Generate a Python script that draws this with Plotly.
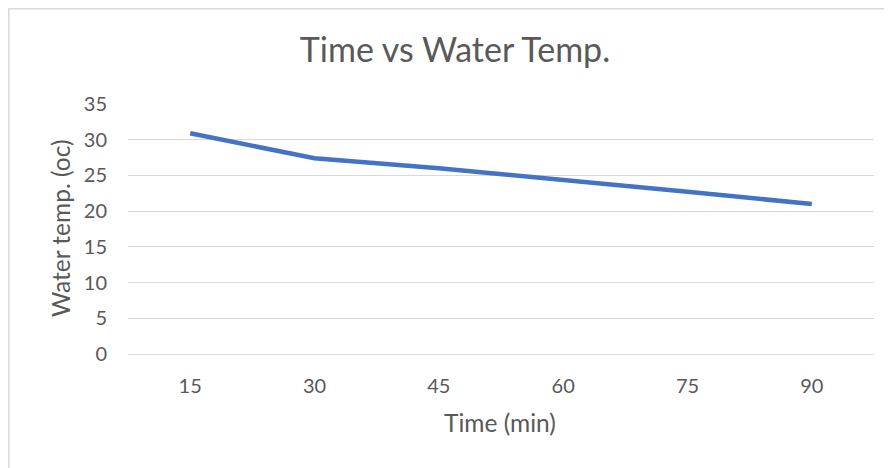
import plotly.graph_objects as go

time_min = ["15", "30", "45", "60", "75", "90"]
water_temp = [30.9, 27.4, 26.0, 24.4, 22.7, 21.0]

# The page places the figure 8px from the top-left corner of the window.
OFF = 8
W, H = 892 - OFF, 468 - OFF
L, T = 128 - OFF, 104 - OFF
R, B = W - (874 - OFF), H - (354 - OFF)
pw, ph = W - L - R, H - T - B

def px_x(x):  # window pixel -> paper
    return (x - OFF - L) / pw

def px_y(y):
    return 1 - (y - OFF - T) / ph

FONT = "Lato"
TXT = "#595959"
GRID = "#d9d9d9"

fig = go.Figure()
fig.add_trace(go.Scatter(
    x=time_min, y=water_temp, mode="lines",
    line=dict(color="#4472c4", width=4.5),
    hoverinfo="x+y", showlegend=False,
))

fig.update_layout(
    width=W, height=H,
    margin=dict(l=L, r=R, t=T, b=B, autoexpand=False),
    paper_bgcolor="white", plot_bgcolor="white",
    font=dict(family=FONT, color=TXT),
    title=dict(text="Time vs Water Temp.", x=(455 - OFF) / W, xanchor="center",
               y=1 - (50 - OFF) / H, yanchor="middle", yref="container",
               font=dict(size=34, color=TXT, family=FONT)),
    xaxis=dict(type="category", range=[-0.5, 5.5], showgrid=False,
               showline=False, zeroline=False, ticks="",
               tickfont=dict(size=20, color=TXT), ticklabelstandoff=18),
    yaxis=dict(range=[0, 35], dtick=5, tick0=0, showgrid=True,
               gridcolor=GRID, gridwidth=1.3, zeroline=True,
               zerolinecolor=GRID, zerolinewidth=1.3, showline=False,
               ticks="", tickfont=dict(size=20, color=TXT),
               ticklabelstandoff=20),
    annotations=[
        dict(text="Water temp. (oc)", textangle=-90, showarrow=False,
             xref="paper", yref="paper", x=px_x(60), y=px_y(229),
             xanchor="center", yanchor="middle",
             font=dict(size=24.5, color=TXT, family=FONT)),
        dict(text="Time (min)", showarrow=False,
             xref="paper", yref="paper", x=px_x(500), y=px_y(422),
             xanchor="center", yanchor="middle",
             font=dict(size=24.5, color=TXT, family=FONT)),
    ],
    shapes=[
        dict(type="rect", xref="paper", yref="paper",
             x0=px_x(8.8), x1=px_x(900), y0=px_y(480), y1=px_y(8.8),
             line=dict(color=GRID, width=1.5), fillcolor="rgba(0,0,0,0)",
             layer="below"),
    ],
)

fig.write_html("out.html")
